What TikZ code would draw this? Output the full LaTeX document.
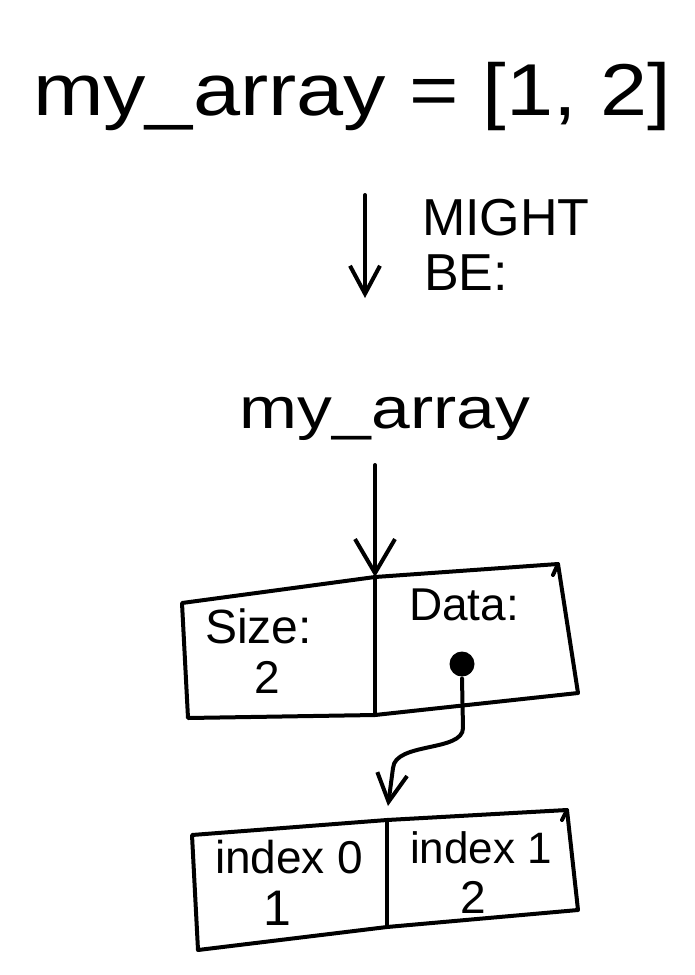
\documentclass[tikz,border=0pt]{standalone}
\usepackage{fontspec}
\setmainfont{Liberation Sans}
\usetikzlibrary{arrows.meta}
\begin{document}
\begin{tikzpicture}[x=1pt,y=-1pt, line width=4pt, line cap=round, line join=round,
  txt/.style={inner sep=0pt},
  barb/.style={-{Straight Barb[length=28pt,width=30pt]}},
  bigbarb/.style={-{Straight Barb[length=34pt,width=40pt]}}]
\useasboundingbox (0,0) rectangle (694,975);
% title
\node[txt,anchor=base] (title) at (352,115) {\scalebox{1.21}[1.05]{\fontsize{70}{84}\selectfont my\_array = [1, 2]}};
% might be arrow
\coordinate (a1s) at (365,195);
\coordinate (a1e) at (365,298);
\draw[barb] (a1s) -- (a1e);
\node[txt,anchor=base west] (might) at (420,235) {\fontsize{52}{60}\selectfont MIGHT};
\node[txt,anchor=base west] (be) at (422,290) {\fontsize{52}{60}\selectfont BE:};
% variable label
\node[txt,anchor=base] (lbl) at (385,428) {\scalebox{1.2}[1]{\fontsize{58}{70}\selectfont my\_array}};
\coordinate (a2s) at (375,465);
\coordinate (b1top) at (375,577);
\draw[bigbarb] (a2s) -- (b1top);
% box 1
\coordinate (b1bot) at (375,715);
\draw (182,603) -- (b1top) -- (558,564) -- (578,693) -- (b1bot) -- (188,718) -- cycle;
\draw (558,564) -- (553,575);
\draw (b1top) -- (b1bot);
\node[txt,anchor=base west] (size) at (203,643) {\fontsize{48}{56}\selectfont Size:};
\node[txt,anchor=base] (sizev) at (267,693) {\fontsize{46}{56}\selectfont 2};
\node[txt,anchor=base west] (data) at (407,620) {\fontsize{46}{56}\selectfont Data:};
\node[circle, fill, minimum size=25pt, inner sep=0pt] (dot) at (462,664) {};
% pointer
\coordinate (b2arr) at (388,806);
\draw[barb] (dot.south) -- (463,728) .. controls (463,752) and (395,742) .. (393,768) -- (b2arr);
% box 2
\coordinate (b2top) at (387,820);
\coordinate (b2bot) at (387,927);
\draw (192,835) -- (b2top) -- (567,810) -- (578,910) -- (b2bot) -- (198,950) -- cycle;
\draw (567,810) -- (562,820);
\draw (b2top) -- (b2bot);
\node[txt,anchor=base west] (i0) at (213,873) {\fontsize{46}{56}\selectfont index 0};
\node[txt,anchor=base] (v0) at (277,925) {\fontsize{50}{56}\selectfont 1};
\node[txt,anchor=base west] (i1) at (408,863) {\fontsize{44}{56}\selectfont index 1};
\node[txt,anchor=base] (v1) at (473,913) {\fontsize{46}{56}\selectfont 2};
\end{tikzpicture}
\end{document}
